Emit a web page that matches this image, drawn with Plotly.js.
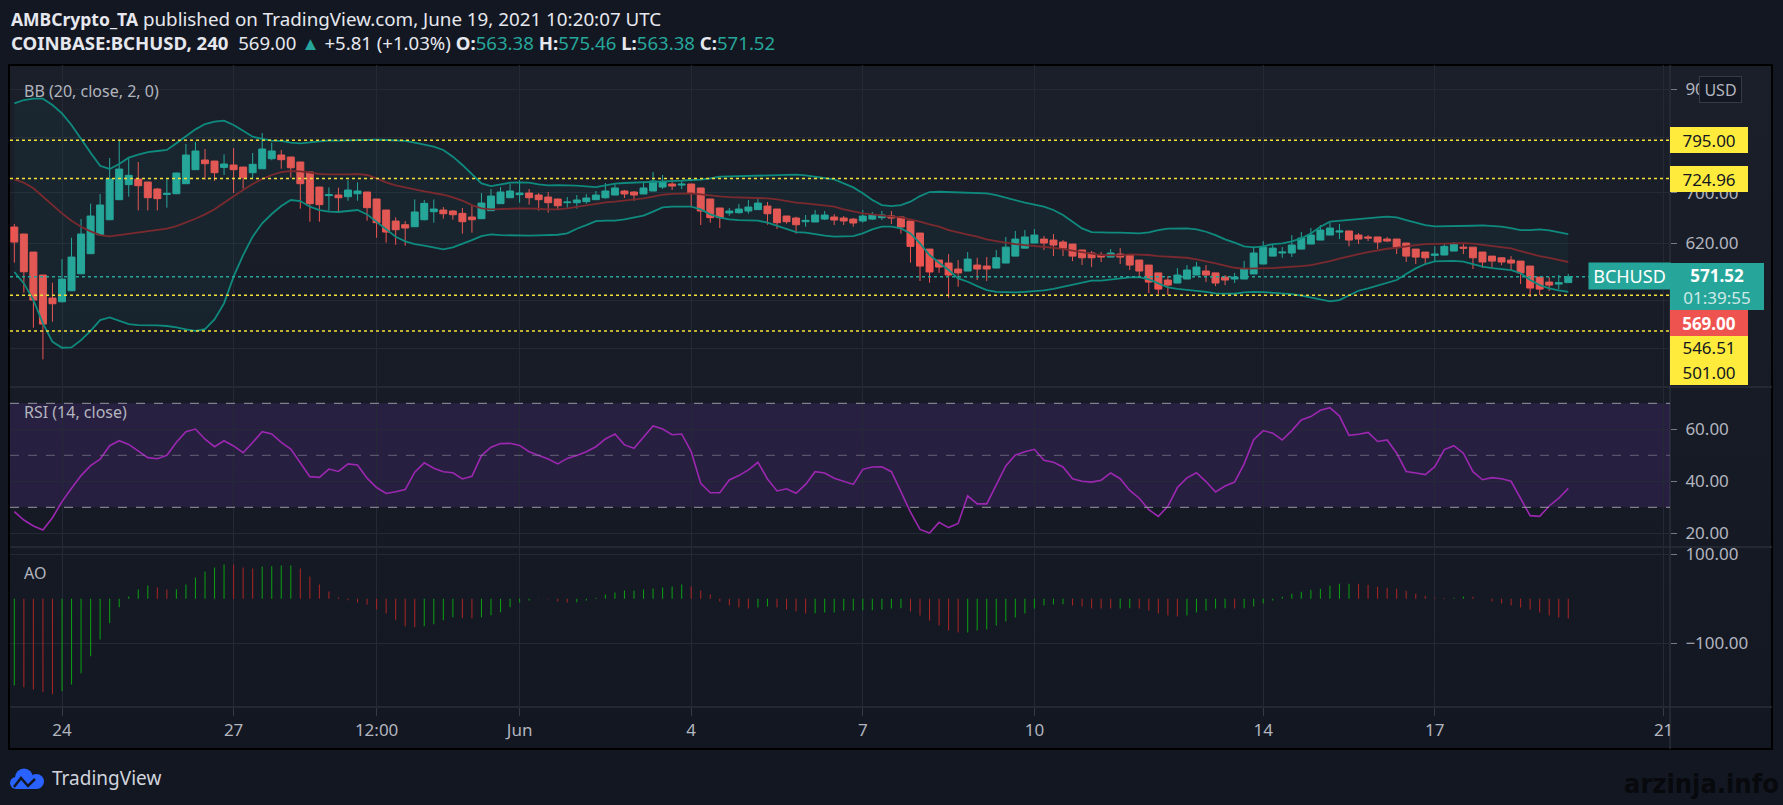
<!DOCTYPE html>
<html><head><meta charset="utf-8">
<script src="https://cdn.plot.ly/plotly-3.0.1.min.js"></script>
<style>
html,body{margin:0;padding:0;background:#131722;width:1783px;height:805px;overflow:hidden;}
#frame{position:absolute;left:8px;top:64px;width:1761px;height:682px;border:2px solid #000;background:linear-gradient(#1b1f2a,#131722);}
#chart{position:absolute;left:0;top:0;width:1783px;height:805px;}
</style></head><body><div id="frame"></div><div id="chart"></div>
<script>
// ---------------- DATA ----------------
const firstBarUTC = '2021-05-23T04:00:00Z';   // first visible 4h candle
const barHours = 4;

const openPrices = [644.5,633.7,606.6,573.8,542.7,537.9,552.4,575.6,604.2,632.6,656,688.6,714.1,723.9,718.7,706.6,697.5,698.6,715.8,740.5,
758,756.1,744.6,748.9,745.2,735.1,742.1,760.4,767.2,763.5,754.4,736.3,710,695.5,696.4,693.6,698.6,701.5,689.7,671.6,
653.9,648.1,645,656,668.9,671.6,670,666.2,660.3,657.6,670.5,682,691.9,697,699.8,696.4,693,689.7,683.6,683.6,
685.3,688.6,691.9,696.4,703.2,701.5,698.2,703.2,710,715.2,713.4,715.2,708.4,689.7,674.9,666.8,667.3,670,672.2,678.1,
673.2,661.9,658.7,652.9,652.4,657,660.3,658.7,657,654,657,659.3,661.9,660.3,653.9,635.2,611,595,590.7,582.2,
579.4,587.8,586.4,583.6,590.7,600.7,612.4,620,626,624.5,621.5,618.5,609.6,605.2,602.3,599.3,603.7,602.3,595,587.8,
576.8,566.9,562.8,568.3,573.8,579.4,576.8,571,568.3,568.3,575.3,589.3,600.7,605.2,605.2,611,618.5,624.5,632.1,636.7,
638.4,632.1,629.2,629.2,626,626,620,611,606.6,601.8,602.3,608.1,613.9,613.9,606.6,600.7,598.3,595,593.5,586.4,
571,564.1,561.4,563.38];
const highPrices = [649.2,634,607,574,563.2,596.4,628,657.1,682,698.2,761.7,796.3,762.9,754.4,719,708.4,725,735,788,791.8,
778.5,756.5,768.5,780.3,745.5,771,809.2,790.5,776.6,763.8,754.6,736.5,710.2,709.4,709,721.6,718.1,701.7,689.9,671.8,
659.8,653.9,689.1,688.1,689,676.5,671.6,674.9,678.1,699.8,706.6,710,715.2,722.2,706.6,699.8,701.5,690,693,696.4,
698.2,703.2,717,715.2,704.9,703.2,719.8,736.3,731,723.9,722.2,715.5,708.6,689.9,675.1,674.9,681.4,688.1,689.7,684.7,
673.4,662.1,660.8,663.5,671.6,670,665,661.9,658.7,671.6,668.4,670,670,660.5,654.1,635.4,611.2,595.2,603.7,595,
606.6,598.3,599.5,609.6,629.2,638.4,639.8,641.3,630.6,633.7,624.5,618.7,609.8,608.1,606.6,611,612.4,602.5,595.2,588,
577,572.4,583.6,587.8,592.2,587.8,577,573.8,576.8,593.5,615,623,617,614,632.1,636.7,642.9,647.6,650.8,649.2,
638.6,635.2,632.1,629.4,629.2,626.2,620.2,611.2,606.8,615,620,621.5,618.5,614.1,606.8,600.9,598.5,600.7,593.7,586.6,
571.2,571,573.8,575.46];
const lowPrices = [591.2,549.8,505.1,467.8,512.5,537,552,575,604,632,655,688,693.6,671,671,671,675.4,698,715,740,
722.8,720.6,731,699.8,707.2,725,742,757.5,742.1,726.3,673.8,652.9,652.9,670.5,667.3,686.9,686.9,654.5,628,620.5,
617.5,616,644.8,655,651.3,657.6,656,634.2,635.8,657.4,670.3,681.8,691.5,683.6,680.3,670.5,667.3,672.2,675.4,673.8,
682,688.4,690.3,696.2,691.4,686.9,698,703,706.6,704.9,706.6,676.5,647.6,651.3,643,662.3,665.6,665.6,672,648.1,
641.5,649.7,634.2,645,652.2,655.5,647.6,647.6,645,651.3,655.5,655.5,649.2,634.2,591.2,565.5,563.2,576.8,543.2,557.8,
579.2,566.9,565.5,583.4,590.5,600.5,612.2,619.8,609.6,600.7,600.7,593.5,587.8,585,592.2,599.1,589.3,580.8,571,549.3,
548,546.7,562.6,568.1,573.6,564.1,558.6,560,562.8,568.1,575.1,589.1,600.5,598.3,599.3,610.8,618.3,624.3,631.9,626,
615,618.5,623,611,621.5,603.7,592.2,589.3,589.3,592.2,602.1,607.9,603.7,582.2,583.6,583.6,587.8,580.8,561.4,544.1,
546.7,552,554.6,563.38];
const closePrices = [621.5,578.4,540.1,509.6,535.3,568.2,599.3,633.7,661.9,679.8,723.9,741.6,730.4,712.3,691.9,690.3,699.2,734.5,767.2,774.7,
751.3,735.1,750.7,740.5,726.3,750.1,778.5,774.7,758.6,743.9,715.8,682,680.3,697,691.9,704.9,703.2,675.4,651.3,636.7,
640.3,643,668.4,682.5,673.2,665.6,664,652.9,656,683,694.7,701.5,703.2,699.8,691.9,688.6,683.6,678.6,684.7,688.1,
691.4,696.4,703.2,708.4,698.2,696.4,708.4,720.4,718.7,711.7,715,699.8,670,659.3,659.3,670,673.2,676.5,683,665.6,
651.3,652.9,648.1,655,663.5,663.5,655.5,654,650.8,661.9,663.5,663.5,658.7,644.5,615,586.4,578.1,585,573.8,576.8,
596.4,582.2,582.2,598.3,613.9,626,629.2,632.1,620,617,612.4,600.7,598.3,598.3,599.3,605.2,599.3,587.8,579.4,564.1,
554.6,560,573.8,580.8,585,573.8,562.8,566.9,571,582.2,605.2,613.9,612.4,606.6,617,627.6,632.1,639.8,642.9,638.4,
624.5,626,627.6,621.5,623,613.9,600.7,599.3,598.3,603.7,615,618.5,612.4,598.3,592.2,593.5,592.2,590.7,576.8,556,
554.6,560,563.2,571.52];

const bbUpper = [869.5,876.5,879.3,879.3,866,848.6,825,797,771.6,747.6,741.8,750.7,762.4,767.8,772.8,774.7,776.6,789.2,803.4,816.4,
827,831.7,833.7,825,813.8,802,797.6,794.4,793.8,790.5,789.2,791.1,793.8,795,794.4,795,795.6,796.3,796.3,795.6,
795,794,790.5,786,782.9,776.6,764.2,749,732.2,716.4,711.7,715.2,717.5,718.1,717.5,714.6,712.9,713.4,713.4,712.3,
711.1,710,712.9,715.8,717,717.5,718.1,719.3,719.3,719.8,721,722.2,722.8,725.2,728,728.6,729.2,729.2,729.2,729.8,
731.6,731.6,731.6,730.4,728,726.3,723.4,716.4,709.4,699.3,688,679.7,678.1,679.7,685.3,694.7,701.5,702,701.5,701.5,
701,700.4,699.3,696.4,691.9,688,683.6,680.3,677,671.6,663.5,652.9,642.4,636.7,635.7,635.7,635.7,635.2,634.6,636.2,
639.8,641.9,642.4,642.4,640.8,637.2,632.1,625.5,620.5,615,613.5,615,618.5,619.5,622.5,627.1,634.6,645,652.9,654.5,
655.5,657,658.2,659.8,660.8,659.8,655.5,651.3,647.6,645.5,645.5,646,646,646.5,647,646.5,645,642.9,639.8,639.8,
640.8,639.3,636.2,633.7];
const bbBasis = [723.4,717.5,707.8,693.6,679.7,666.2,654.5,645,637.7,632.1,630.1,632.1,634.6,636.7,638.8,640.8,641.9,646,651.3,657.6,
664.5,672.7,683.6,694.7,704.9,715.2,723.9,731,736.3,738.1,737.5,735.1,732.8,732.2,731.6,732.2,732.8,731,725.2,718.1,
712.9,709,706.1,702.6,700.3,696.9,692.5,687,679.7,674.2,672.7,672.7,673.7,674.2,674.2,673.7,672.7,672.7,674.2,677,
679.2,682.5,684.2,685.3,687,688.6,690.8,693.6,696.9,698.2,699.3,699.3,697.5,695.2,694.1,693,692.5,691.9,691.9,690.8,
689.1,686.4,683.6,682.5,681,679.2,677,672.7,669.5,666.2,664.5,662.5,660.8,659.8,656.6,652.9,648.7,645,639.8,635.7,
632.6,629.6,625.5,623,620.5,618.5,617,616,614.5,613,611,609.1,606.6,604.2,602.3,601.8,601.8,603.2,603.2,602.3,
600.7,599.8,598.8,598.3,596,593.5,590.2,586.9,584,582.7,582.7,582.7,583.6,584.6,585,586.4,587.8,590.2,593.5,596.9,
600.7,603.7,606.6,609.6,611.5,613,615.5,617,618.5,619,619.5,620,620,619,617.5,616,614.5,612,608.1,604.2,
600.7,598.3,595.4,592.2];
const bbLower = [578,562.3,540.1,510.4,488.2,481.2,481.6,490.2,501.4,514.6,517.9,513.7,509.6,508.4,508.4,508,507.2,505.6,503,501.4,
503.4,515.4,535.8,571.5,602.3,629.6,650.3,665.1,678.1,688,686.4,677,671.6,669,668.4,669.5,671.6,664.5,652.9,640.8,
629.6,622.5,618.5,616,613.5,610.5,613.5,618.5,624.5,630.6,633.2,632.1,631.6,631.1,631.1,631.6,632.1,632.6,634.6,641.9,
647.6,653.9,654.5,654.5,656.6,659.3,662.5,669,676,677,677,677,672.7,664.5,659.3,656.6,655.5,655,654.5,651.3,
646.5,640.8,636.5,635.7,633.2,631.1,629.6,629.6,630.6,634.6,640.8,645,645,642.4,634.6,619.5,602.3,591.2,580.8,569.2,
564.6,558.6,553.3,551,550.2,550.2,551,552,552.9,555,557.8,561,564.1,566,566,567.8,569.7,570.6,571,567.8,
562.3,556.8,555,553.8,552.9,551,548.9,548.4,548.4,550.2,551,550.6,549.7,548.9,548,545.8,543.6,541,538.4,540.1,
546.7,552.4,555.5,559,562.3,566.9,575.2,583.1,589.3,593,593.5,593.9,592.6,588.8,585.7,583.6,582.2,580.8,576.3,566.9,
560,555.5,552.9,551];

const rsiValues = [28.3,25.1,22.8,21.3,26.0,32.2,37.3,42.2,46.0,48.5,53.7,55.6,54.2,51.7,49.1,48.7,50.0,55.0,59.1,60.1,
56.2,53.3,55.6,53.6,51.0,54.9,59.1,58.2,55.0,52.4,47.2,41.8,41.5,44.7,43.8,46.7,46.3,41.2,37.6,35.3,
36.0,36.8,43.5,47.1,45.0,43.7,43.3,40.9,41.9,49.9,53.1,54.5,54.6,53.8,51.4,50.1,48.6,46.7,48.8,49.9,
51.4,53.3,56.3,58.2,54.0,52.7,56.9,61.3,60.1,57.9,58.2,51.4,39.2,35.6,35.6,40.5,42.2,44.4,47.3,40.9,
36.3,37.1,35.4,38.8,43.7,43.2,41.2,39.9,38.8,44.6,45.5,45.6,43.7,36.0,28.1,21.5,20.1,24.2,22.2,23.8,
34.4,31.3,31.3,38.6,45.9,50.1,51.4,52.3,48.1,47.3,45.5,41.0,40.0,39.7,40.4,43.2,41.0,36.5,33.5,29.1,
26.5,30.4,37.6,41.3,43.3,39.9,35.9,38.2,39.7,46.7,56.0,59.5,58.5,55.9,59.5,63.6,64.9,67.3,68.3,65.1,
57.7,58.1,58.8,55.3,55.9,50.8,43.8,43.2,42.6,45.6,52.2,53.7,50.8,43.7,40.6,41.4,41.0,40.0,33.2,26.8,
26.5,30.5,33.5,37.3];

const aoValues = [-194.8,-198.5,-203.7,-209.7,-214.2,-207.5,-192.5,-167,-128.8,-91.4,-54.7,-18.7,5.2,21,30,25.5,21,21.3,32.2,47.9,
61.4,70.4,77.2,77.1,70.4,68.2,72.7,72.9,74.9,75.1,68.2,50.2,32.2,16.5,3,-3,-8.2,-12.7,-24,-33,
-48,-61.4,-63.7,-61.4,-56.9,-48,-41.2,-43.4,-43.6,-41.2,-36.7,-30,-18.7,-8.2,-3.7,-0.7,-1,-6,-8.2,-8.0,
-3.7,2.2,9.7,14.2,18.7,18.8,21,23.2,25.5,27.7,32.2,27.7,18.7,9.7,-6,-15,-19.5,-21.7,-19.5,-17.2,
-19.5,-24,-28.5,-33,-32.5,-30.7,-30.5,-26.2,-26,-25.8,-25.5,-24,-21.7,-21.5,-28.5,-37.5,-48.7,-59.9,-71.2,-75.7,
-75.5,-71.2,-68.9,-59.9,-50.9,-41.9,-33,-21.7,-15,-12.7,-12.5,-15,-17.2,-21.7,-21.9,-22,-21.7,-21.5,-21.9,-26.2,
-33,-37.5,-39.7,-37.5,-30.7,-26.2,-21.7,-21.5,-21.7,-21.5,-17.2,-10.5,-3.7,4.5,11.2,15.7,20.2,22.5,29.2,33.7,
33.8,33.7,31.5,27,24.7,22.5,18,11.2,6.7,2.2,2.0,2.5,5.2,4.5,0,-6,-10.5,-15,-19.5,-24,
-30.7,-37.5,-42,-44];

const xTickDates = ['2021-05-24','2021-05-27','2021-05-29 12:00','2021-06-01','2021-06-04','2021-06-07','2021-06-10','2021-06-14','2021-06-17','2021-06-21'];
const xTickLabels = ['24','27','12:00','Jun','4','7','10','14','17','21'];
const priceTicks = [480,540,620,700,800,900];
const priceTickLabels = ['','','620.00','700.00','','900.00'];   // 480/540/800 sit under the level tags
const rsiTicks = [20,40,60];
const aoTicks = [-100,100];
const levelLines = [795.00,724.96,546.51,501.00];
const lastPrice = 571.52;
const alertPrice = 569.00;

// ---------------- BUILD ----------------
const W = 1783, H = 805;
const px = x => x / W;
const py = y => 1 - y / H;
const FONT = 'Noto Sans, Open Sans, sans-serif';
const GRAY = '#b2b5be';

const t0 = Date.parse(firstBarUTC);
const times = closePrices.map((_, i) => new Date(t0 + i * barHours * 3600e3).toISOString().slice(0, 16).replace('T', ' '));
const fmt = v => v.toFixed(2).replace('-', '\u2212');
const aoColors = aoValues.map((v, i) => (i === 0 || v >= aoValues[i - 1]) ? '#0b9a12' : '#a32525');

const XD = [px(10), px(1670)];
const traces = [
  {type:'scatter', mode:'lines', x:times, y:bbUpper, line:{color:'#0f8a7e', width:1.8}, hoverinfo:'skip'},
  {type:'scatter', mode:'lines', x:times, y:bbLower, line:{color:'#0f8a7e', width:1.8}, fill:'tonexty', fillcolor:'rgba(38,166,154,0.06)', hoverinfo:'skip'},
  {type:'scatter', mode:'lines', x:times, y:bbBasis, line:{color:'#7a2a2e', width:1.8}, hoverinfo:'skip'},
  {type:'candlestick', x:times, open:openPrices, high:highPrices, low:lowPrices, close:closePrices, whiskerwidth:0,
   increasing:{line:{color:'#26a69a', width:1}, fillcolor:'#26a69a'},
   decreasing:{line:{color:'#ef5350', width:1}, fillcolor:'#ef5350'}},
  {type:'scatter', mode:'lines', x:times, y:rsiValues, yaxis:'y2', line:{color:'#9c27b0', width:1.6}},
  {type:'bar', x:times, y:aoValues, yaxis:'y3', width:1.6e6, marker:{color:aoColors, line:{width:0}}}
];

const shapes = [];
[387, 547, 707].forEach(y => shapes.push({type:'line', xref:'paper', yref:'paper', x0:px(10), x1:px(1772), y0:py(y), y1:py(y), line:{color:'#2a2e39', width:1.5}, layer:'below'}));
shapes.push({type:'line', xref:'paper', yref:'paper', x0:px(1670), x1:px(1670), y0:py(65), y1:py(749), line:{color:'#2a2e39', width:1.5}, layer:'below'});
shapes.push({type:'rect', xref:'paper', yref:'y2', x0:XD[0], x1:XD[1], y0:30, y1:70, fillcolor:'rgba(126,60,200,0.17)', line:{width:0}, layer:'below'});
[[70,1],[50,0.55],[30,1]].forEach(([v,o]) => shapes.push({type:'line', xref:'paper', yref:'y2', x0:XD[0], x1:XD[1], y0:v, y1:v, opacity:o, line:{color:'#9598a1', width:1, dash:'dash'}}));
levelLines.forEach(v => shapes.push({type:'line', xref:'paper', yref:'y', x0:XD[0], x1:XD[1], y0:v, y1:v, line:{color:'#f5e13a', width:1.5, dash:'dot'}}));
shapes.push({type:'line', xref:'paper', yref:'y', x0:XD[0], x1:XD[1], y0:lastPrice, y1:lastPrice, line:{color:'#26a69a', width:1.5, dash:'dot'}});
const circ = (cx, cy, r, col) => ({type:'circle', xref:'paper', yref:'paper', x0:px(cx-r), x1:px(cx+r), y0:py(cy+r), y1:py(cy-r), fillcolor:col, line:{width:0}});
shapes.push(circ(24, 777.5, 9, '#2962ff'), circ(36.5, 781.5, 7.5, '#2962ff'), circ(16, 783, 6, '#2962ff'));
shapes.push({type:'rect', xref:'paper', yref:'paper', x0:px(16), x1:px(37), y0:py(789), y1:py(781), fillcolor:'#2962ff', line:{width:0}});
shapes.push({type:'path', xref:'paper', yref:'paper', path:`M ${px(14)} ${py(787)} L ${px(21)} ${py(778)} L ${px(28)} ${py(786)} L ${px(35)} ${py(779)}`, line:{color:'#131722', width:2.5}});

const ann = [];
const txt = (x, y, text, size, color, extra) => Object.assign({xref:'paper', yref:'paper', x:px(x), y:py(y), xanchor:'left', yanchor:'middle', text, showarrow:false, font:{family:FONT, size, color}}, extra || {});
ann.push(txt(9, 19, '<b style="font-size:17.5px">AMBCrypto_TA</b> published on TradingView.com, June 19, 2021 10:20:07 UTC', 18.8, '#e6e8ee'));
const T = s => `<span style="color:#26a69a">${s}</span>`;
ann.push(txt(9, 43, `<b>COINBASE:BCHUSD, 240</b>&nbsp; ${fmt(alertPrice)} ${T('\u25B2')} +5.81 (+1.03%) <b>O:</b>${T('563.38')} <b>H:</b>${T('575.46')} <b>L:</b>${T('563.38')} <b>C:</b>${T(fmt(lastPrice))}`, 18.6, '#e6e8ee'));
ann.push(txt(22, 91, 'BB (20, close, 2, 0)', 16, GRAY));
ann.push(txt(22, 412, 'RSI (14, close)', 16, GRAY));
ann.push(txt(22, 573, 'AO', 16, GRAY));
const tag = (yc, text, bg, fg, w, h) => txt(1670, yc, text, 17, fg, {bgcolor:bg, width:w, height:h, borderpad:0, borderwidth:0, align:'center'});
ann.push(tag(140, fmt(levelLines[0]), '#ffeb3b', '#131722', 78, 26));
ann.push(tag(178.5, fmt(levelLines[1]), '#ffeb3b', '#131722', 78, 26));
ann.push(tag(286.5, `<b>${fmt(lastPrice)}</b><br><span style="color:rgba(255,255,255,0.78)">01:39:55</span>`, '#26a69a', '#ffffff', 94, 47));
ann.push(tag(323, `<b>${fmt(alertPrice)}</b>`, '#ef5350', '#ffffff', 78, 26));
ann.push(tag(347.5, fmt(levelLines[2]), '#ffeb3b', '#131722', 78, 23));
ann.push(tag(372, fmt(levelLines[3]), '#ffeb3b', '#131722', 78, 26));
ann.push(txt(1588, 276, 'BCHUSD', 18, '#ffffff', {bgcolor:'#26a69a', width:81, height:26, borderpad:0, align:'center'}));
ann.push(txt(1699, 89.5, 'USD', 16, GRAY, {bgcolor:'#131722', bordercolor:'#363a45', borderwidth:1, width:41, height:25, borderpad:0, align:'center'}));
ann.push(txt(50, 778, 'TradingView', 19, '#d1d4dc'));
ann.push(txt(1781, 783, '<b>arzinja.info</b>', 27, '#07090d', {xanchor:'right', font:{family:"'Liberation Sans Narrow', 'DejaVu Sans Condensed', 'Roboto Condensed', sans-serif", size:27, color:'#07090d'}}));

const axFont = {family:FONT, size:17, color:GRAY};
const yCommon = {side:'right', anchor:'x', ticks:'outside', ticklen:6, tickcolor:'#787b86', tickfont:axFont, gridcolor:'#252935', zeroline:false, showline:false, fixedrange:true, ticklabelstandoff:5};
const layout = {
  width:W, height:H, margin:{l:0, r:0, t:0, b:0}, paper_bgcolor:'rgba(0,0,0,0)', plot_bgcolor:'rgba(0,0,0,0)',
  showlegend:false, font:{family:FONT, color:GRAY}, boxgap:0.27, boxgroupgap:0,
  xaxis:{domain:XD, type:'date', anchor:'y3', range:['2021-05-23 02:11','2021-06-21 02:41'], tickvals:xTickDates, ticktext:xTickLabels,
         ticks:'outside', ticklen:8, tickcolor:'#363a45', tickfont:axFont, showgrid:true, gridcolor:'#252935', zeroline:false, showline:false,
         rangeslider:{visible:false}, fixedrange:true},
  yaxis:Object.assign({}, yCommon, {domain:[py(387), py(65)], type:'log', range:[Math.log10(437.6), Math.log10(954.0)], tickvals:priceTicks, ticktext:priceTickLabels}),
  yaxis2:Object.assign({}, yCommon, {domain:[py(547), py(387)], range:[14.73, 76.27], tickvals:rsiTicks, ticktext:rsiTicks.map(fmt)}),
  yaxis3:Object.assign({}, yCommon, {domain:[py(707), py(547)], range:[-243.1, 116.4], tickvals:aoTicks, ticktext:aoTicks.map(fmt)}),
  shapes, annotations:ann
};
Plotly.newPlot('chart', traces, layout, {staticPlot:true, displayModeBar:false});
</script></body></html>
